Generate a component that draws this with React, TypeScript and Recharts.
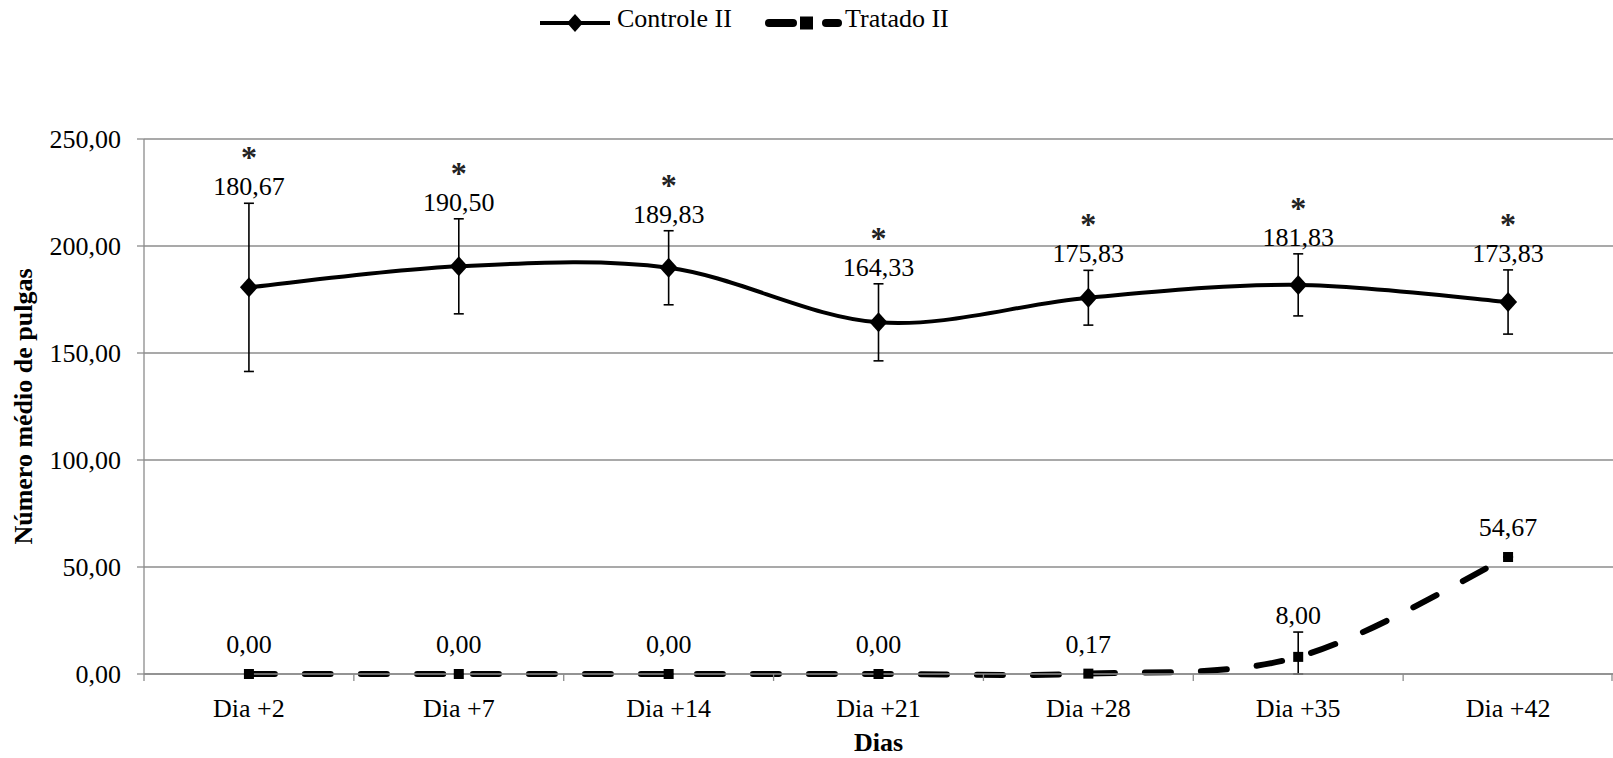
import React from "react";
import {
  LineChart,
  Line,
  XAxis,
  YAxis,
  CartesianGrid,
  ErrorBar,
  LabelList,
  Legend,
  Label,
} from "recharts";

const SERIF = '"Liberation Serif", "Times New Roman", serif';
const GRID = "#8c8c8c";
const FONT = 26;
const CHART_W = 1613;
const CHART_H = 758;
const Y_AXIS_W = 144;
const X_AXIS_H = 84;

const days = ["Dia +2", "Dia +7", "Dia +14", "Dia +21", "Dia +28", "Dia +35", "Dia +42"];
const controle = [180.67, 190.5, 189.83, 164.33, 175.83, 181.83, 173.83];
const controleErr = [39.3, 22.2, 17.3, 18, 12.8, 14.5, 15];
const tratado = [0, 0, 0, 0, 0.17, 8, 54.67];
const tratadoErrLow = [0, 0, 0, 0, 0, 8, 0];
const tratadoErrHigh = [0, 0, 0, 0, 0, 11.6, 0];
const yTicks = [0, 50, 100, 150, 200, 250];

const rows = days.map((day, i) => ({
  day,
  base: 0,
  controle: controle[i],
  controleErr: controleErr[i],
  controleTop: controle[i] + controleErr[i],
  tratado: tratado[i],
  tratadoErr: [tratadoErrLow[i], tratadoErrHigh[i]],
  tratadoTop: tratado[i] + tratadoErrHigh[i],
}));

const fmt = (v: number) => v.toFixed(2).replace(".", ",");
const HALF_BAND = (CHART_W - Y_AXIS_W) / days.length / 2;

// Excel-like smoothed line (Catmull-Rom through the points)
function excelSmooth(context: any) {
  let pts: number[][] = [];
  return {
    areaStart() {},
    areaEnd() {},
    lineStart() {
      pts = [];
    },
    lineEnd() {
      if (!pts.length) return;
      context.moveTo(pts[0][0], pts[0][1]);
      for (let i = 0; i < pts.length - 1; i++) {
        const p0 = pts[i - 1] || pts[i];
        const p1 = pts[i];
        const p2 = pts[i + 1];
        const p3 = pts[i + 2] || pts[i + 1];
        context.bezierCurveTo(
          p1[0] + (p2[0] - p0[0]) / 6,
          p1[1] + (p2[1] - p0[1]) / 6,
          p2[0] - (p3[0] - p1[0]) / 6,
          p2[1] - (p3[1] - p1[1]) / 6,
          p2[0],
          p2[1]
        );
      }
    },
    point(x: number, y: number) {
      pts.push([+x, +y]);
    },
  };
}

const Diamond = (props: any) => {
  const { cx, cy, index } = props;
  if (cx == null || cy == null) return <g key={`d${index}`} />;
  return (
    <path
      key={`d${index}`}
      d={`M${cx} ${cy - 10} L${cx + 9} ${cy} L${cx} ${cy + 10} L${cx - 9} ${cy} Z`}
      fill="#000"
    />
  );
};

const Square = (props: any) => {
  const { cx, cy, index } = props;
  if (cx == null || cy == null) return <g key={`s${index}`} />;
  return <rect key={`s${index}`} x={cx - 5} y={cy - 5} width={10} height={10} fill="#000" />;
};

// category names under the axis, with Excel-style tick marks on the band boundaries
const categoryLabel = (props: any) => {
  const { x, y, index } = props;
  const last = index === days.length - 1;
  return (
    <g key={`cat${index}`}>
      <line x1={x - HALF_BAND} y1={y} x2={x - HALF_BAND} y2={y + 7} stroke={GRID} strokeWidth={1.3} />
      {last && (
        <line x1={x + HALF_BAND - 1} y1={y} x2={x + HALF_BAND - 1} y2={y + 7} stroke={GRID} strokeWidth={1.3} />
      )}
      <text x={x} y={y + 43} textAnchor="middle" fill="#000" fontSize={FONT} fontFamily={SERIF}>
        {days[index]}
      </text>
    </g>
  );
};

const controleLabel = (props: any) => {
  const { x, y, index } = props;
  const center = y - 17;
  return (
    <g key={`cl${index}`}>
      <text x={x} y={center + 9} textAnchor="middle" fill="#000" fontSize={FONT} fontFamily={SERIF}>
        {fmt(controle[index])}
      </text>
      <text
        x={x}
        y={center - 32 + 14}
        textAnchor="middle"
        fill="#222"
        fontSize={32}
        fontWeight="bold"
        fontFamily={SERIF}
      >
        *
      </text>
    </g>
  );
};

const tratadoLabel = (props: any) => {
  const { x, y, index } = props;
  const center = tratadoErrHigh[index] > 0 ? y - 17 : y - 30;
  return (
    <text
      key={`tl${index}`}
      x={x}
      y={center + 9}
      textAnchor="middle"
      fill="#000"
      fontSize={FONT}
      fontFamily={SERIF}
    >
      {fmt(tratado[index])}
    </text>
  );
};

const renderLegend = () => (
  <div style={{ position: "relative", height: 46, fontFamily: SERIF, fontSize: FONT, color: "#000" }}>
    <svg style={{ position: "absolute", left: 540, top: 13 }} width={72} height={20}>
      <line x1={0} y1={10} x2={70} y2={10} stroke="#000" strokeWidth={4} />
      <path d="M35 1 L43 10 L35 19 L27 10 Z" fill="#000" />
    </svg>
    <span style={{ position: "absolute", left: 617, top: 4, lineHeight: "30px" }}>Controle II</span>
    <svg style={{ position: "absolute", left: 765, top: 13 }} width={80} height={20}>
      <line x1={4} y1={10} x2={28} y2={10} stroke="#000" strokeWidth={8} strokeLinecap="round" />
      <rect x={35} y={3.5} width={13} height={13} fill="#000" />
      <line x1={61} y1={10} x2={73} y2={10} stroke="#000" strokeWidth={8} strokeLinecap="round" />
    </svg>
    <span style={{ position: "absolute", left: 845, top: 4, lineHeight: "30px" }}>Tratado II</span>
  </div>
);

const yTitle = (props: any) => {
  const vb = props.viewBox || { y: 139, height: 535 };
  const cy = vb.y + vb.height / 2;
  return (
    <text
      x={23}
      y={cy}
      transform={`rotate(-90, 23, ${cy})`}
      textAnchor="middle"
      dominantBaseline="central"
      fontSize={FONT}
      fontWeight="bold"
      fontFamily={SERIF}
      fill="#000"
    >
      Número médio de pulgas
    </text>
  );
};

const xTitle = (props: any) => {
  const vb = props.viewBox || { x: Y_AXIS_W, width: CHART_W - Y_AXIS_W };
  return (
    <text
      x={vb.x + vb.width / 2}
      y={751}
      textAnchor="middle"
      fontSize={FONT}
      fontWeight="bold"
      fontFamily={SERIF}
      fill="#000"
    >
      Dias
    </text>
  );
};

export default function App() {
  return (
    <div style={{ position: "absolute", left: 0, top: 0, width: CHART_W, height: CHART_H, background: "#fff" }}>
      <LineChart
        width={CHART_W}
        height={CHART_H}
        data={rows}
        margin={{ top: 139, right: 0, bottom: 0, left: 0 }}
      >
        <CartesianGrid vertical={false} stroke={GRID} strokeWidth={1.3} />
        <XAxis
          dataKey="day"
          scale="band"
          height={X_AXIS_H}
          axisLine={{ stroke: GRID, strokeWidth: 1.3 }}
          tickLine={false}
          tick={false}
        >
          <Label content={xTitle} />
        </XAxis>
        <YAxis
          width={Y_AXIS_W}
          domain={[0, 250]}
          ticks={yTicks}
          interval={0}
          tickFormatter={fmt}
          axisLine={{ stroke: GRID, strokeWidth: 1.3 }}
          tickLine={{ stroke: GRID, strokeWidth: 1.3 }}
          tickSize={7}
          tickMargin={16}
          tick={{ fill: "#000", fontSize: FONT, fontFamily: SERIF }}
        >
          <Label content={yTitle} />
        </YAxis>
        <Legend
          layout="horizontal"
          verticalAlign="middle"
          align="center"
          content={renderLegend}
          wrapperStyle={{ position: "absolute", top: 0, left: 0, width: CHART_W, height: 46 }}
        />
        <Line
          dataKey="base"
          stroke="none"
          dot={false}
          activeDot={false}
          legendType="none"
          isAnimationActive={false}
        >
          <LabelList dataKey="base" content={categoryLabel} />
        </Line>
        <Line
          dataKey="controle"
          type={excelSmooth as any}
          stroke="#000"
          strokeWidth={4}
          dot={Diamond}
          activeDot={false}
          isAnimationActive={false}
        >
          <ErrorBar dataKey="controleErr" direction="y" width={5} stroke="#000" strokeWidth={1.6} isAnimationActive={false} />
        </Line>
        <Line
          dataKey="tratado"
          type={excelSmooth as any}
          stroke="#000"
          strokeWidth={6}
          strokeDasharray="26 30"
          strokeLinecap="round"
          dot={Square}
          activeDot={false}
          isAnimationActive={false}
        >
          <ErrorBar dataKey="tratadoErr" direction="y" width={5} stroke="#000" strokeWidth={1.6} isAnimationActive={false} />
        </Line>
        <Line
          dataKey="controleTop"
          stroke="none"
          dot={false}
          activeDot={false}
          legendType="none"
          isAnimationActive={false}
        >
          <LabelList dataKey="controleTop" content={controleLabel} />
        </Line>
        <Line
          dataKey="tratadoTop"
          stroke="none"
          dot={false}
          activeDot={false}
          legendType="none"
          isAnimationActive={false}
        >
          <LabelList dataKey="tratadoTop" content={tratadoLabel} />
        </Line>
      </LineChart>
    </div>
  );
}
